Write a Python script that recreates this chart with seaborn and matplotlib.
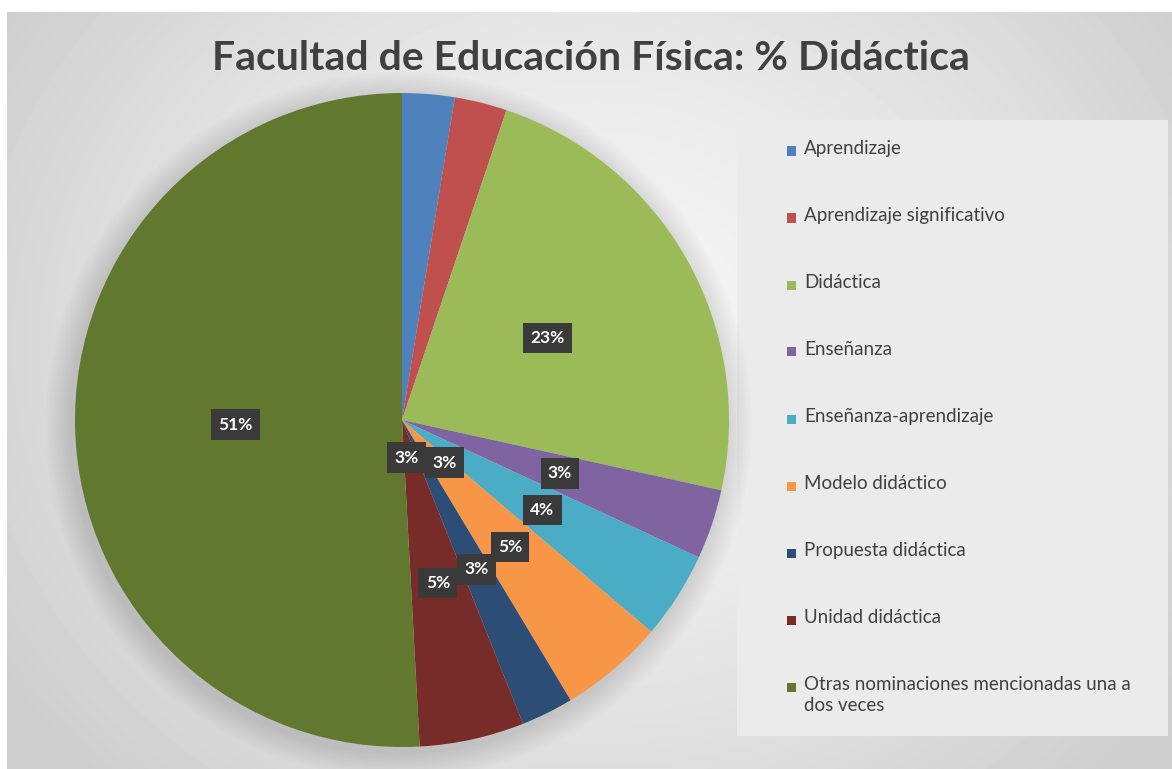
import numpy as np
import matplotlib
matplotlib.use("Agg")
import matplotlib.pyplot as plt
from matplotlib.patches import Rectangle, Circle
import seaborn as sns

# ---- data ----
categories = ["Aprendizaje", "Aprendizaje significativo", "Didáctica", "Enseñanza",
              "Enseñanza-aprendizaje", "Modelo didáctico", "Propuesta didáctica",
              "Unidad didáctica", "Otras nominaciones mencionadas una a\ndos veces"]
counts = [3, 3, 27, 4, 5, 6, 3, 6, 59]
colors = ["#4F81BD", "#C0504D", "#9BBB59", "#8064A2", "#4BACC6",
          "#F79646", "#2C4D75", "#772C2A", "#63782F"]
title = "Facultad de Educación Física: % Didáctica"

sns.set_theme(style="white")
plt.rcParams['font.family'] = ['Lato', 'DejaVu Sans']

W, H = 1172, 769
fig = plt.figure(figsize=(W / 100, H / 100), dpi=100)
fig.patch.set_facecolor("white")

# background radial gradient panel
bg = fig.add_axes([7 / W, 0, 1 - 7 / W, 1 - 12 / H])
bg.set_zorder(0)
yy, xx = np.mgrid[0:757, 0:1165]
cx, cy = 590, 330
d = np.sqrt(((xx - cx) / 1.15) ** 2 + (yy - cy) ** 2) / 620
d = np.clip(d, 0, 1)
vals = 0.965 - 0.16 * d ** 1.4
bg.imshow(vals, cmap="gray", vmin=0, vmax=1, aspect="auto",
          extent=[0, 1, 0, 1], interpolation="bilinear")
bg.axis("off")

# legend box
fig.patches.append(Rectangle((737 / W, 1 - 736 / H), (1168 - 737) / W, (736 - 120) / H,
                             transform=fig.transFigure, facecolor="#ebebeb",
                             edgecolor="none", zorder=1))

# pie
R = 327
pcx, pcy = 402, 420
ax = fig.add_axes([(pcx - R) / W, 1 - (pcy + R) / H, 2 * R / W, 2 * R / H])
ax.set_zorder(2)
ax.patch.set_alpha(0)
# soft shadow
for k in range(10):
    ax.add_patch(Circle((-0.01, -0.015), 1.0 + 0.008 * (k + 1), facecolor="#000000",
                        alpha=0.012, edgecolor="none", zorder=0, clip_on=False))
wedges, _ = ax.pie(counts, colors=colors, startangle=90, counterclock=False,
                   radius=1.0, wedgeprops=dict(linewidth=0))
for w in wedges:
    w.set_zorder(1)
    w.set_clip_on(False)
ax.set_xlim(-1.0, 1.0)
ax.set_ylim(-1.0, 1.0)
ax.set_aspect("equal")
ax.axis("off")

total = sum(counts)
label_offsets = [(0.015, -0.115), (0.13, -0.13)] + [None] * 7
for i, (w, c) in enumerate(zip(wedges, counts)):
    pct = f"{round(100 * c / total):d}%"
    if label_offsets[i] is not None:
        lx, ly = label_offsets[i]
    else:
        ang = np.deg2rad((w.theta1 + w.theta2) / 2)
        lx, ly = 0.51 * np.cos(ang), 0.51 * np.sin(ang)
    ax.text(lx, ly, pct, ha="center", va="center", color="white", fontsize=12.5,
            fontweight="bold", zorder=5,
            bbox=dict(boxstyle="square,pad=0.42", facecolor="#3a3a3a", edgecolor="none"))

# legend (manual)
for i, (lab, col) in enumerate(zip(categories, colors)):
    yc = 151 + 67 * i
    fig.patches.append(Rectangle((787 / W, 1 - (yc + 4.5) / H), 9 / W, 9 / H,
                                 transform=fig.transFigure, facecolor=col,
                                 edgecolor="none", zorder=3))
    fig.text(804 / W, 1 - (yc - 11) / H, lab, ha="left", va="top",
             fontsize=13.5, color="#404040", linespacing=1.3, zorder=3)

fig.text(591 / W, 1 - 58 / H, title, ha="center", va="center",
         fontsize=29.5, fontweight="bold", color="#404040", zorder=3)

fig.savefig("out.png", dpi=100)
